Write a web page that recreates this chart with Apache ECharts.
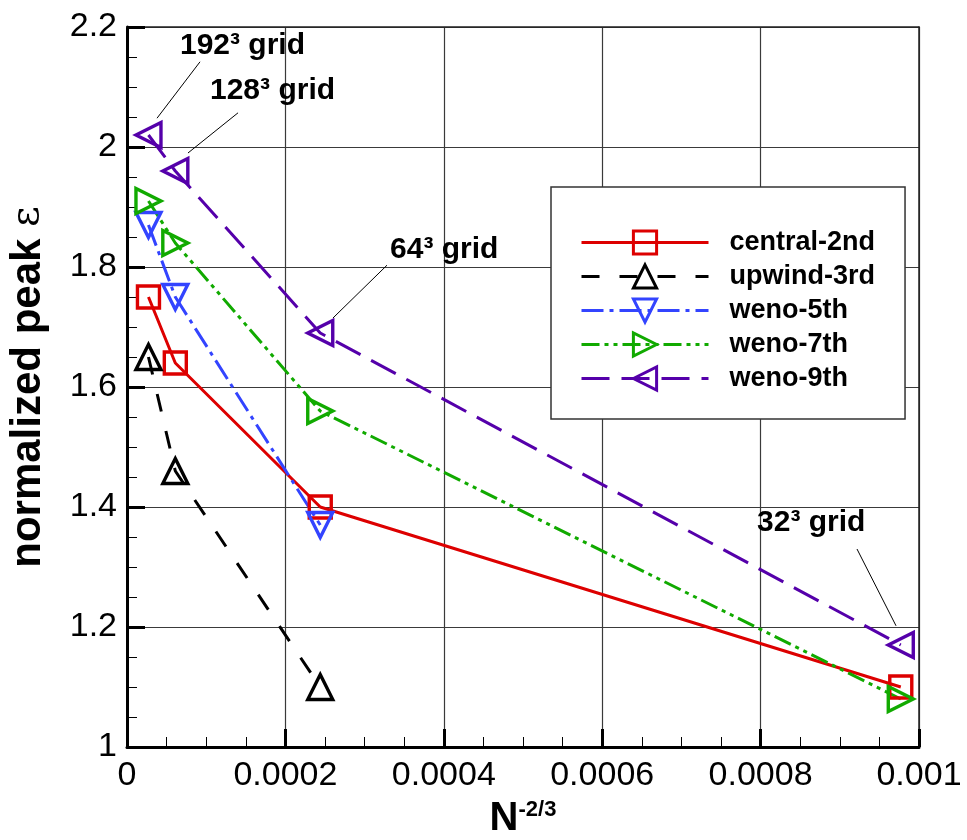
<!DOCTYPE html>
<html>
<head>
<meta charset="utf-8">
<title>normalized peak dissipation vs grid spacing</title>
<script src="https://cdn.jsdelivr.net/npm/echarts@6/dist/echarts.min.js"></script>
<style>
  html, body { margin: 0; padding: 0; background: #fff; }
  #chart { width: 967px; height: 840px; }
</style>
</head>
<body>
<div id="chart"></div>
<script>
// Grid spacing measure N^(-2/3) for the 192^3, 128^3, 64^3 and 32^3 meshes
const xValues = [0.0000271, 0.000061, 0.000244, 0.000977];

// Normalized peak dissipation for each scheme (null = not computed on that mesh)
const central2nd = [1.75, 1.64, 1.40, 1.10];
const upwind3rd  = [1.65, 1.46, 1.10, null];
const weno5th    = [1.87, 1.75, 1.37, null];
const weno7th    = [1.91, 1.84, 1.56, 1.08];
const weno9th    = [2.02, 1.96, 1.69, 1.17];

const seriesNames = ['central-2nd', 'upwind-3rd', 'weno-5th', 'weno-7th', 'weno-9th'];

const xTickLabels = ['0', '0.0002', '0.0004', '0.0006', '0.0008', '0.001'];
const yTickLabels = ['1', '1.2', '1.4', '1.6', '1.8', '2', '2.2'];

// Mesh annotations: label anchor and leader line (data coordinates)
const gridNotes = [
  { text: '192³ grid', at: [0.0000669, 2.168], from: [0.0000922, 2.142], to: [0.0000379, 2.048] },
  { text: '128³ grid', at: [0.0001048, 2.093], from: [0.0001402, 2.057], to: [0.0000770, 1.990] },
  { text: '64³ grid',  at: [0.0003321, 1.828], from: [0.0003283, 1.803], to: [0.0002601, 1.715] },
  { text: '32³ grid',  at: [0.0007955, 1.373], from: [0.0009217, 1.330], to: [0.0009710, 1.202] }
];

const FONT = '"Liberation Sans", Arial, sans-serif';

function pairs(ys) {
  const out = [];
  ys.forEach((y, i) => { if (y !== null) out.push([xValues[i], y]); });
  return out;
}

function makeSeries(name, ys, color, dash, symbol, rotate, size) {
  return {
    name: name,
    type: 'line',
    data: pairs(ys),
    symbol: symbol,
    symbolSize: size,
    symbolRotate: rotate,
    showAllSymbol: true,
    lineStyle: { color: color, width: 3, type: dash },
    itemStyle: { color: 'rgba(255,255,255,0)', borderColor: color, borderWidth: 3.4 },
    emphasis: { disabled: true },
    animation: false
  };
}

const chart = echarts.init(document.getElementById('chart'), null, { renderer: 'canvas' });

const axisLabelStyle = { color: '#000', fontSize: 34, fontFamily: FONT };

const option = {
  animation: false,
  backgroundColor: '#fff',
  grid: { left: 127, right: 48, top: 27, bottom: 93, containLabel: false, outerBoundsMode: 'none' },
  legend: {
    orient: 'vertical',
    left: 551,
    top: 187,
    data: seriesNames,
    itemWidth: 127,
    itemHeight: 29,
    itemGap: 5,
    padding: [41, 30, 26, 29],
    backgroundColor: '#fff',
    borderColor: '#333',
    borderWidth: 1.5,
    borderRadius: 0,
    selectedMode: false,
    lineStyle: { width: 3 },
    itemStyle: { borderWidth: 3 },
    textStyle: { color: '#000', fontSize: 27, fontWeight: 'bold', fontFamily: FONT, lineHeight: 29, padding: [0, 0, 0, 16] }
  },
  xAxis: [{
    type: 'value',
    min: 0, max: 0.001, interval: 0.0002,
    name: '{n|N}{s|-2/3}',
    nameLocation: 'middle',
    nameGap: 52,
    nameTextStyle: {
      rich: {
        n: { fontSize: 40, fontWeight: 'bold', fontFamily: FONT, color: '#000', lineHeight: 40 },
        s: { fontSize: 22, fontWeight: 'bold', fontFamily: FONT, color: '#000', verticalAlign: 'top', lineHeight: 22 }
      }
    },
    axisLine: { show: true, onZero: false, lineStyle: { color: '#000', width: 3 } },
    axisTick: { show: true, inside: true, length: 18, lineStyle: { color: '#000', width: 3 } },
    minorTick: { show: true, splitNumber: 4, length: 10, lineStyle: { color: '#000', width: 1 } },
    splitLine: { show: true, lineStyle: { color: '#3a3a3a', width: 1.2 } },
    axisLabel: Object.assign({
      margin: 12,
      showMinLabel: true, showMaxLabel: true,
      formatter: v => xTickLabels[Math.round(v / 0.0002)]
    }, axisLabelStyle)
  }, {
    type: 'value', position: 'top',
    min: 0, max: 0.001, interval: 0.0002,
    axisLine: { show: true, onZero: false, lineStyle: { color: '#222', width: 1.5 } },
    axisTick: { show: false }, axisLabel: { show: false }, splitLine: { show: false }
  }],
  yAxis: [{
    type: 'value',
    min: 1, max: 2.2, interval: 0.2,
    name: '{b|normalized peak }{e|ε}',
    nameLocation: 'middle',
    nameRotate: 90,
    nameGap: 78,
    nameTextStyle: {
      rich: {
        b: { fontSize: 42, fontWeight: 'bold', fontFamily: FONT, color: '#000' },
        e: { fontSize: 40, fontWeight: 'normal', fontFamily: '"DejaVu Serif", serif', color: '#000' }
      }
    },
    axisLine: { show: true, onZero: false, lineStyle: { color: '#000', width: 3 } },
    axisTick: { show: true, inside: true, length: 18, lineStyle: { color: '#000', width: 3 } },
    minorTick: { show: true, splitNumber: 4, length: 10, lineStyle: { color: '#000', width: 1 } },
    splitLine: { show: true, lineStyle: { color: '#3a3a3a', width: 1.2 } },
    axisLabel: Object.assign({
      margin: 10,
      showMinLabel: true, showMaxLabel: true,
      formatter: v => yTickLabels[Math.round((v - 1) / 0.2)]
    }, axisLabelStyle)
  }, {
    type: 'value', position: 'right',
    min: 1, max: 2.2, interval: 0.2,
    axisLine: { show: true, onZero: false, lineStyle: { color: '#222', width: 1.5 } },
    axisTick: { show: false }, axisLabel: { show: false }, splitLine: { show: false }
  }],
  series: [
    makeSeries('central-2nd', central2nd, '#dd0000', 'solid', 'rect', 0, 22),
    makeSeries('upwind-3rd', upwind3rd, '#000000', [18, 20], 'triangle', 0, 25),
    makeSeries('weno-5th', weno5th, '#3344ff', [22, 6, 4, 6], 'triangle', 180, 25),
    makeSeries('weno-7th', weno7th, '#11aa00', [18, 5, 4, 5, 4, 5], 'triangle', -90, 25),
    makeSeries('weno-9th', weno9th, '#5500aa', [28, 12], 'triangle', 90, 25)
  ]
};

chart.setOption(option);

// Mesh labels with leader lines, placed through the chart's coordinate system
const graphics = [];
gridNotes.forEach(n => {
  const p = chart.convertToPixel({ xAxisIndex: 0, yAxisIndex: 0 }, n.at);
  const a = chart.convertToPixel({ xAxisIndex: 0, yAxisIndex: 0 }, n.from);
  const b = chart.convertToPixel({ xAxisIndex: 0, yAxisIndex: 0 }, n.to);
  graphics.push({
    type: 'line', silent: true, z: 20,
    shape: { x1: a[0], y1: a[1], x2: b[0], y2: b[1] },
    style: { stroke: '#000', lineWidth: 1 }
  });
  graphics.push({
    type: 'text', silent: true, z: 20,
    x: p[0], y: p[1],
    style: {
      text: n.text, fill: '#000',
      font: 'bold 30px ' + FONT,
      textAlign: 'left', textVerticalAlign: 'middle'
    }
  });
});
chart.setOption({ graphic: graphics });
</script>
</body>
</html>
